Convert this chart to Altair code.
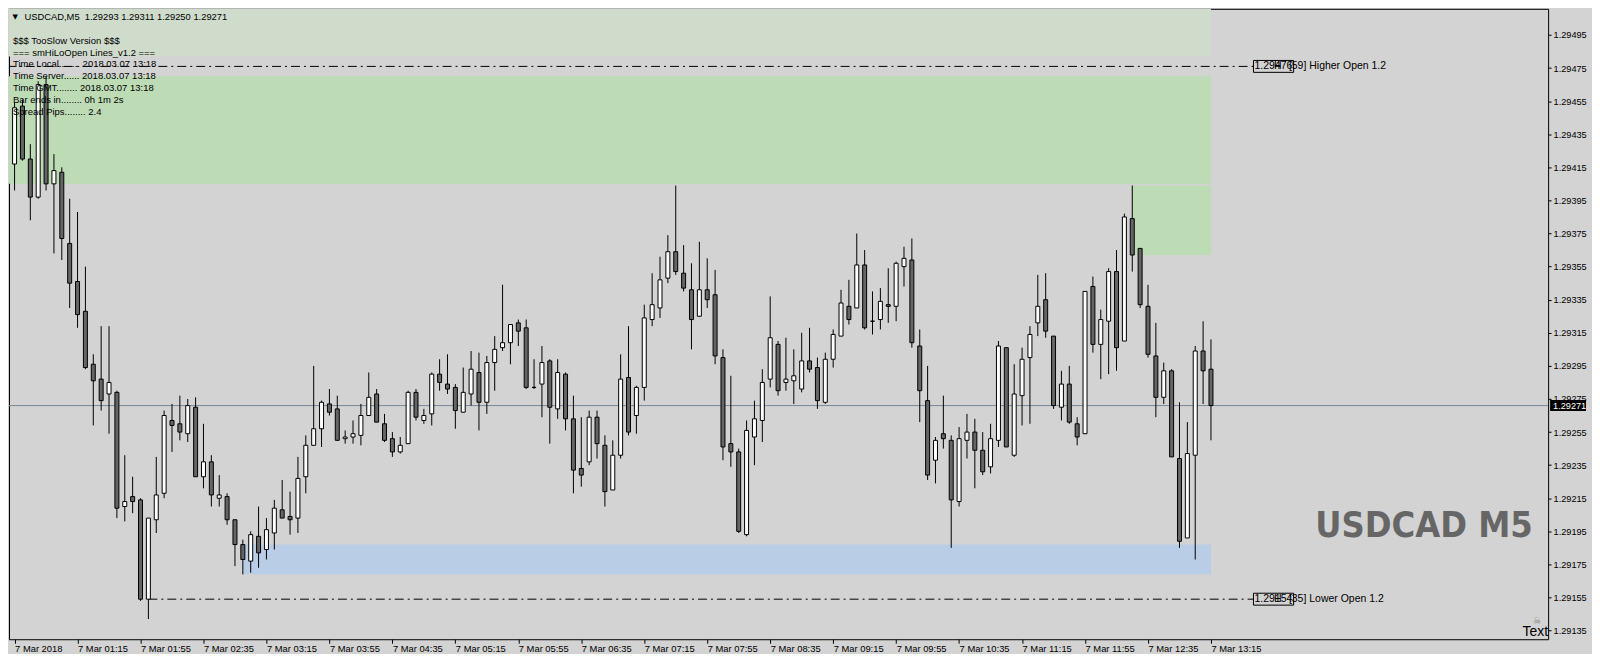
import json
import altair as alt
import pandas as pd

# ---------------- data ----------------
symbol = "USDCAD,M5"
quote = ["1.29293", "1.29311", "1.29250", "1.29271"]

bar_index = list(range(153))

opens = [1.29417, 1.29452, 1.29420, 1.29397, 1.29465, 1.29405, 1.29412, 1.29369, 1.29346, 1.29328,
         1.29296, 1.29287, 1.29278, 1.29279, 1.29210, 1.29216, 1.29214, 1.29154, 1.29202, 1.29218,
         1.29262, 1.29260, 1.29254, 1.29270, 1.29228, 1.29237, 1.29215, 1.29216, 1.29202, 1.29187,
         1.29177, 1.29192, 1.29184, 1.29194, 1.29208, 1.29204, 1.29203, 1.29228, 1.29247, 1.29257,
         1.29272, 1.29269, 1.29251, 1.29252, 1.29253, 1.29265, 1.29278, 1.29260, 1.29251, 1.29243,
         1.29248, 1.29279, 1.29262, 1.29266, 1.29290, 1.29284, 1.29282, 1.29267, 1.29278, 1.29291,
         1.29273, 1.29297, 1.29306, 1.29309, 1.29321, 1.29318, 1.29282, 1.29284, 1.29298, 1.29269,
         1.29290, 1.29263, 1.29233, 1.29237, 1.29264, 1.29247, 1.29220, 1.29241, 1.29288, 1.29265,
         1.29282, 1.29323, 1.29330, 1.29348, 1.29364, 1.29351, 1.29341, 1.29325, 1.29341, 1.29338,
         1.29300, 1.29248, 1.29243, 1.29193, 1.29252, 1.29262, 1.29287, 1.29308, 1.29285, 1.29286,
         1.29281, 1.29298, 1.29294, 1.29273, 1.29299, 1.29313, 1.29331, 1.29330, 1.29356, 1.29322,
         1.29323, 1.29332, 1.29331, 1.29355, 1.29359, 1.29307, 1.29274, 1.29238, 1.29254, 1.29250,
         1.29213, 1.29250, 1.29255, 1.29244, 1.29234, 1.29250, 1.29306, 1.29241, 1.29277, 1.29300,
         1.29321, 1.29335, 1.29313, 1.29270, 1.29284, 1.29260, 1.29254, 1.29343, 1.29308, 1.29322,
         1.29352, 1.29310, 1.29384, 1.29366, 1.29331, 1.29301, 1.29276, 1.29292, 1.29239, 1.29191,
         1.29241, 1.29304, 1.29293]

highs = [1.29454, 1.29456, 1.29429, 1.29467, 1.29470, 1.29423, 1.29415, 1.29396, 1.29388, 1.29355,
         1.29302, 1.29319, 1.29319, 1.29280, 1.29241, 1.29228, 1.29215, 1.29203, 1.29240, 1.29268,
         1.29272, 1.29277, 1.29275, 1.29276, 1.29260, 1.29241, 1.29229, 1.29218, 1.29202, 1.29190,
         1.29195, 1.29210, 1.29203, 1.29214, 1.29226, 1.29219, 1.29240, 1.29253, 1.29295, 1.29274,
         1.29281, 1.29277, 1.29256, 1.29262, 1.29272, 1.29291, 1.29281, 1.29266, 1.29255, 1.29252,
         1.29280, 1.29281, 1.29269, 1.29291, 1.29299, 1.29302, 1.29284, 1.29294, 1.29304, 1.29303,
         1.29301, 1.29313, 1.29344, 1.29320, 1.29323, 1.29323, 1.29299, 1.29307, 1.29299, 1.29299,
         1.29291, 1.29277, 1.29264, 1.29268, 1.29268, 1.29253, 1.29250, 1.29302, 1.29319, 1.29283,
         1.29332, 1.29351, 1.29361, 1.29374, 1.29404, 1.29368, 1.29357, 1.29370, 1.29360, 1.29353,
         1.29305, 1.29289, 1.29245, 1.29262, 1.29274, 1.29293, 1.29337, 1.29310, 1.29312, 1.29305,
         1.29315, 1.29318, 1.29300, 1.29303, 1.29317, 1.29341, 1.29347, 1.29375, 1.29365, 1.29340,
         1.29342, 1.29354, 1.29358, 1.29367, 1.29372, 1.29317, 1.29295, 1.29252, 1.29277, 1.29253,
         1.29258, 1.29266, 1.29263, 1.29255, 1.29260, 1.29310, 1.29306, 1.29296, 1.29306, 1.29319,
         1.29350, 1.29351, 1.29313, 1.29292, 1.29295, 1.29264, 1.29340, 1.29349, 1.29329, 1.29354,
         1.29365, 1.29387, 1.29404, 1.29366, 1.29344, 1.29321, 1.29297, 1.29293, 1.29273, 1.29261,
         1.29307, 1.29322, 1.29311]

lows = [1.29401, 1.29419, 1.29383, 1.29396, 1.29401, 1.29363, 1.29359, 1.29330, 1.29318, 1.29293,
        1.29259, 1.29268, 1.29254, 1.29203, 1.29201, 1.29206, 1.29153, 1.29142, 1.29194, 1.29215,
        1.29243, 1.29250, 1.29249, 1.29228, 1.29221, 1.29210, 1.29210, 1.29199, 1.29174, 1.29169,
        1.29170, 1.29173, 1.29178, 1.29184, 1.29203, 1.29193, 1.29194, 1.29218, 1.29247, 1.29246,
        1.29265, 1.29250, 1.29248, 1.29248, 1.29247, 1.29265, 1.29261, 1.29249, 1.29240, 1.29242,
        1.29248, 1.29262, 1.29260, 1.29259, 1.29280, 1.29278, 1.29257, 1.29267, 1.29271, 1.29256,
        1.29266, 1.29280, 1.29304, 1.29296, 1.29307, 1.29281, 1.29281, 1.29264, 1.29248, 1.29263,
        1.29256, 1.29218, 1.29222, 1.29235, 1.29239, 1.29210, 1.29220, 1.29239, 1.29253, 1.29254,
        1.29274, 1.29319, 1.29324, 1.29345, 1.29350, 1.29340, 1.29305, 1.29325, 1.29330, 1.29296,
        1.29238, 1.29234, 1.29194, 1.29192, 1.29235, 1.29249, 1.29282, 1.29277, 1.29280, 1.29272,
        1.29279, 1.29291, 1.29269, 1.29272, 1.29294, 1.29313, 1.29320, 1.29330, 1.29317, 1.29314,
        1.29317, 1.29321, 1.29322, 1.29343, 1.29306, 1.29261, 1.29226, 1.29224, 1.29245, 1.29185,
        1.29210, 1.29239, 1.29221, 1.29229, 1.29230, 1.29246, 1.29246, 1.29240, 1.29259, 1.29260,
        1.29313, 1.29312, 1.29269, 1.29262, 1.29260, 1.29247, 1.29254, 1.29303, 1.29287, 1.29290,
        1.29292, 1.29310, 1.29352, 1.29330, 1.29300, 1.29264, 1.29272, 1.29240, 1.29185, 1.29191,
        1.29178, 1.29272, 1.29250]

closes = [1.29451, 1.29420, 1.29397, 1.29465, 1.29405, 1.29413, 1.29372, 1.29345, 1.29326, 1.29294,
          1.29286, 1.29274, 1.29285, 1.29209, 1.29213, 1.29213, 1.29154, 1.29203, 1.29217, 1.29265,
          1.29259, 1.29255, 1.29271, 1.29228, 1.29237, 1.29217, 1.29217, 1.29202, 1.29187, 1.29178,
          1.29193, 1.29182, 1.29196, 1.29209, 1.29203, 1.29202, 1.29227, 1.29247, 1.29257, 1.29273,
          1.29267, 1.29250, 1.29252, 1.29254, 1.29265, 1.29276, 1.29261, 1.29250, 1.29243, 1.29247,
          1.29279, 1.29264, 1.29265, 1.29290, 1.29285, 1.29281, 1.29268, 1.29279, 1.29293, 1.29273,
          1.29297, 1.29305, 1.29309, 1.29320, 1.29316, 1.29282, 1.29282, 1.29297, 1.29270, 1.29291,
          1.29263, 1.29232, 1.29229, 1.29264, 1.29248, 1.29219, 1.29241, 1.29287, 1.29255, 1.29282,
          1.29324, 1.29332, 1.29347, 1.29364, 1.29352, 1.29342, 1.29323, 1.29341, 1.29335, 1.29301,
          1.29246, 1.29243, 1.29195, 1.29256, 1.29263, 1.29285, 1.29312, 1.29280, 1.29287, 1.29289,
          1.29298, 1.29293, 1.29274, 1.29299, 1.29314, 1.29333, 1.29323, 1.29356, 1.29318, 1.29322,
          1.29334, 1.29331, 1.29357, 1.29360, 1.29309, 1.29280, 1.29229, 1.29250, 1.29251, 1.29214,
          1.29251, 1.29255, 1.29244, 1.29231, 1.29251, 1.29307, 1.29246, 1.29278, 1.29299, 1.29314,
          1.29331, 1.29316, 1.29271, 1.29284, 1.29261, 1.29252, 1.29340, 1.29308, 1.29323, 1.29352,
          1.29306, 1.29385, 1.29362, 1.29332, 1.29302, 1.29276, 1.29292, 1.29240, 1.29189, 1.29242,
          1.29304, 1.29292, 1.29271]

x_labels = ["7 Mar 2018", "7 Mar 01:15", "7 Mar 01:55", "7 Mar 02:35", "7 Mar 03:15",
            "7 Mar 03:55", "7 Mar 04:35", "7 Mar 05:15", "7 Mar 05:55", "7 Mar 06:35",
            "7 Mar 07:15", "7 Mar 07:55", "7 Mar 08:35", "7 Mar 09:15", "7 Mar 09:55",
            "7 Mar 10:35", "7 Mar 11:15", "7 Mar 11:55", "7 Mar 12:35", "7 Mar 13:15"]

y_ticks = [1.29135, 1.29155, 1.29175, 1.29195, 1.29215, 1.29235, 1.29255, 1.29275, 1.29295,
           1.29315, 1.29335, 1.29355, 1.29375, 1.29395, 1.29415, 1.29435, 1.29455, 1.29475, 1.29495]

zone_names = ["pale", "green", "green2", "blue"]
zone_start = [-2, -2, 142, 29]
zone_end = [152, 152, 152, 152]
zone_low = [1.29482, 1.29405, 1.29362, 1.29169]
zone_high = [1.29530, 1.29470, 1.29404, 1.29187]
zone_colors = ["#d0dccb", "#bddbb5", "#bddbb5", "#b9cde6"]

bid_price = 1.29271
higher_open = 1.29476
lower_open = 1.29154
higher_count = 59
lower_count = 35
lower_open_bar = 17

info_lines = ["$$$ TooSlow Version $$$",
              "=== smHiLoOpen Lines_v1.2 ===",
              "Time Local........ 2018.03.07 13:18",
              "Time Server...... 2018.03.07 13:18",
              "Time GMT........ 2018.03.07 13:18",
              "Bar ends in........ 0h 1m 2s",
              "Spread Pips........ 2.4"]

# ---------------- layout / style ----------------
W, H = 1543, 632
FONT = "Liberation Sans"
BG = "#d3d3d3"

xs = alt.Scale(domain=[-0.075, 194.2], nice=False, zero=False)
ys = alt.Scale(domain=[1.291298, 1.295108], nice=False, zero=False)

label_expr = json.dumps(x_labels) + "[round(datum.value / 8)]"
x_axis = alt.Axis(values=list(range(0, 153, 8)), labelExpr=label_expr, title=None, grid=False,
                  domain=False, ticks=True, tickSize=4, tickColor="black", labelAlign="left",
                  labelBaseline="top", labelPadding=1, labelFont=FONT, labelFontSize=9.4,
                  labelColor="black", labelFlush=False, labelOverlap=False, labelBound=False)
y_axis = alt.Axis(orient="right", values=y_ticks, format=".5f", title=None, grid=False,
                  domain=False, tickSize=3, tickColor="black", labelPadding=2, labelFont=FONT,
                  labelFontSize=9.2, labelColor="black", labelOverlap=False, labelBaseline="middle")


def X(field):
    return alt.X(field, type="quantitative", scale=xs, axis=x_axis)


def Y(field):
    return alt.Y(field, type="quantitative", scale=ys, axis=y_axis)


candles = pd.DataFrame({"i": bar_index, "open": opens, "high": highs, "low": lows, "close": closes})
zones = pd.DataFrame({"zone": zone_names, "x0": zone_start, "x1": zone_end,
                      "lo": zone_low, "hi": zone_high})
bid = pd.DataFrame({"price": [bid_price], "label": [f"{bid_price:.5f}"]})

box_l, box_r = 157.4, 162.5
half = 0.000036
hl = pd.DataFrame({
    "x0": [-1, lower_open_bar], "x1": [box_l, box_l],
    "price": [higher_open, lower_open],
    "lo": [higher_open - half, lower_open - half], "hi": [higher_open + half, lower_open + half],
    "val": [f"{higher_open:.5f}", f"{lower_open:.5f}"],
    "txt": [f"[{higher_count}] Higher Open 1.2", f"[{lower_count}] Lower Open 1.2"],
})

layers = []

# zones
layers.append(alt.Chart(zones).mark_rect(clip=True).encode(
    x=X("x0"), x2="x1", y=Y("lo"), y2="hi",
    color=alt.Color("zone:N", scale=alt.Scale(domain=zone_names, range=zone_colors), legend=None)))

# bid line
layers.append(alt.Chart(bid).mark_rule(color="#778899", strokeWidth=1).encode(
    x=alt.value(0), x2=alt.value(W), y=Y("price")))

# higher / lower open dashed lines
layers.append(alt.Chart(hl).mark_rule(color="black", strokeWidth=1, strokeDash=[9, 4, 2, 4],
                                      clip=True).encode(x=X("x0"), x2="x1", y=Y("price")))

# wicks
layers.append(alt.Chart(candles).mark_rule(color="black", strokeWidth=1, clip=True).encode(
    x=X("i"), y=Y("low"), y2="high"))

# bodies
layers.append(alt.Chart(candles).mark_bar(size=4, stroke="black", strokeWidth=1, clip=True).encode(
    x=X("i"), y=Y("open"), y2="close",
    fill=alt.condition("datum.close >= datum.open", alt.value("white"), alt.value("#656565"))))

# label boxes and texts
layers.append(alt.Chart(hl).mark_rect(fillOpacity=0, stroke="black", strokeWidth=1).encode(
    x=alt.X("bx0:Q", scale=xs, axis=x_axis), x2="bx1:Q", y=Y("lo"), y2="hi"
).transform_calculate(bx0=str(box_l), bx1=str(box_r)))
layers.append(alt.Chart(hl).mark_text(align="left", baseline="middle", font=FONT, fontSize=10.5,
                                      color="black", dx=1).encode(
    x=alt.X("tx:Q", scale=xs, axis=x_axis), y=Y("price"), text="val:N"
).transform_calculate(tx=str(box_l)))
layers.append(alt.Chart(hl).mark_text(align="left", baseline="middle", font=FONT, fontSize=10.5,
                                      color="black").encode(
    x=alt.X("tx:Q", scale=xs, axis=x_axis), y=Y("price"), text=alt.value("H")
).transform_calculate(tx="160.0"))
layers.append(alt.Chart(hl).mark_text(align="left", baseline="middle", font=FONT, fontSize=10.5,
                                      color="black").encode(
    x=alt.X("tx:Q", scale=xs, axis=x_axis), y=Y("price"), text="txt:N"
).transform_calculate(tx="161.9"))

one = pd.DataFrame({"a": [0]})

# header
layers.append(alt.Chart(one).mark_text(text="▼", font="DejaVu Sans", fontSize=7, color="black",
                                       align="center", baseline="middle").encode(
    x=alt.value(6.3), y=alt.value(8.2)))
layers.append(alt.Chart(one).mark_text(text=f"{symbol}\u00a0\u00a0" + " ".join(quote), font=FONT,
                                       fontSize=9.4, color="black", align="left",
                                       baseline="middle").encode(
    x=alt.value(15.5), y=alt.value(7.9)))

# info block
for k, line in enumerate(info_lines):
    layers.append(alt.Chart(one).mark_text(text=line, font=FONT, fontSize=9.5, color="black",
                                           align="left", baseline="middle").encode(
        x=alt.value(4), y=alt.value(31.9 + 11.95 * k)))

# watermark
layers.append(alt.Chart(one).mark_text(text="USDCAD M5",
                                       font="Liberation Sans Narrow, DejaVu Sans Condensed, Liberation Sans, sans-serif",
                                       fontWeight="bold", fontSize=36, color="#666666",
                                       align="center", baseline="alphabetic").encode(
    x=alt.value(1418.6), y=alt.value(529.4)))

# bottom-right object label
layers.append(alt.Chart(one).mark_text(text="☠", font="DejaVu Sans", fontSize=9, color="#888888",
                                       align="center", baseline="middle").encode(
    x=alt.value(1532), y=alt.value(614)))
layers.append(alt.Chart(one).mark_text(text="Text", font=FONT, fontSize=14, color="black",
                                       align="right", baseline="alphabetic").encode(
    x=alt.value(W), y=alt.value(629)))

# current price tag on the axis
layers.append(alt.Chart(bid).mark_rule(color="black", strokeWidth=11, strokeCap="butt").encode(
    x=alt.value(W + 2), x2=alt.value(W + 38), y=Y("price")))
layers.append(alt.Chart(bid).mark_text(color="white", font=FONT, fontSize=9.2, align="left",
                                       baseline="middle").encode(
    x=alt.value(W + 5), y=Y("price"), text="label:N"))

chart = alt.layer(*layers).properties(
    width=W, height=H, padding=0, background=BG
).configure_view(stroke="black", strokeWidth=1, fill=BG)

chart.save("out.html", embed_options={"renderer": "svg", "actions": False})
